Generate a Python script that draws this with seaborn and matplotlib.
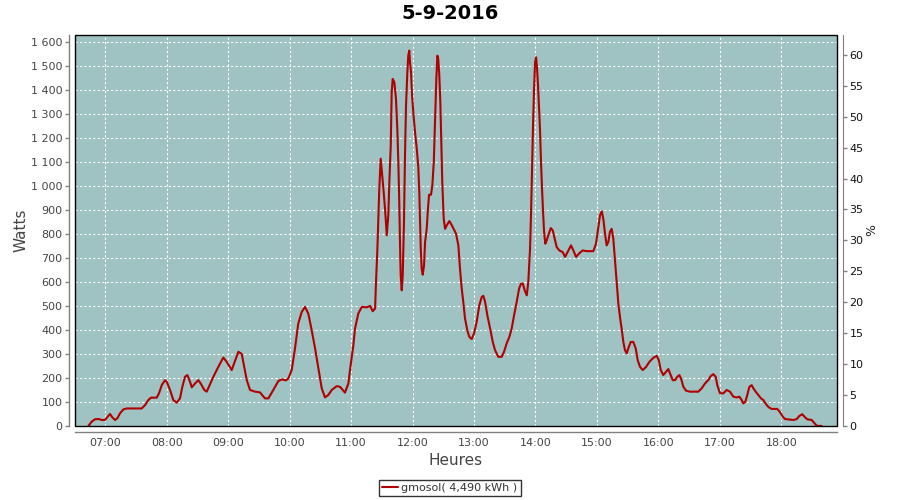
import matplotlib
matplotlib.use("Agg")
import matplotlib.pyplot as plt
import seaborn as sns
import pandas as pd
from matplotlib.patches import Rectangle
from matplotlib.ticker import FuncFormatter

# ---- data: minutes since midnight, watts ----
minutes = [
    403.4, 406.7, 409.9, 413.8, 416.5, 419.7, 422.3, 424.6, 426.8, 429.5,
    431.7, 434.4, 437.6, 440.9, 455.5, 458.8, 462.0, 464.6, 470.2, 472.4,
    475.1, 478.3, 480.0, 483.2, 486.4, 489.7, 492.9, 495.2, 497.8, 500.1,
    502.7, 504.4, 507.6, 510.8, 513.4, 516.7, 519.0, 525.5, 530.3, 535.2,
    538.5, 543.4, 549.9, 553.2, 558.1, 561.3, 566.2, 571.0, 575.9, 579.2,
    584.0, 588.9, 592.2, 596.4, 598.7, 602.0, 605.2, 608.4, 611.8, 615.0,
    618.2, 621.5, 624.8, 628.0, 631.3, 634.5, 637.7, 641.1, 645.9, 649.2,
    654.0, 657.3, 658.9, 662.2, 663.8, 667.0, 670.4, 675.2, 678.5, 681.1,
    683.4, 684.3, 685.6, 686.6, 687.5, 688.9, 691.5, 693.1, 694.8, 696.3,
    697.3, 698.7, 699.6, 700.6, 702.2, 703.8, 705.1, 706.1, 707.0, 707.7,
    708.4, 709.4, 710.4, 711.6, 712.6, 713.6, 714.9, 715.8, 716.8, 717.5,
    718.5, 719.5, 720.7, 722.4, 724.1, 725.6, 726.6, 727.3, 728.0, 728.9,
    729.9, 731.2, 732.2, 733.8, 734.8, 736.1, 738.0, 739.3, 740.7, 742.2,
    743.2, 744.2, 745.1, 746.1, 747.1, 748.1, 749.0, 750.4, 751.7, 753.3,
    755.9, 756.6, 759.2, 762.4, 764.7, 766.3, 768.0, 769.5, 771.2, 773.4,
    775.4, 777.7, 780.0, 782.6, 785.2, 787.5, 789.1, 790.8, 793.0, 795.7,
    798.3, 800.5, 803.7, 807.0, 809.3, 811.9, 814.5, 816.8, 819.1, 821.7,
    824.0, 825.9, 827.6, 829.5, 831.5, 833.0, 834.7, 835.7, 836.6, 837.6,
    838.6, 839.6, 840.6, 841.5, 842.5, 843.5, 844.4, 845.4, 846.4, 847.4,
    848.4, 849.6, 851.0, 852.5, 854.9, 856.8, 858.8, 860.7, 863.3, 866.6,
    868.9, 872.1, 874.7, 877.0, 879.6, 882.5, 886.1, 890.0, 896.5, 899.1,
    901.4, 903.0, 904.7, 906.2, 907.9, 909.5, 911.1, 912.7, 914.4, 916.0,
    917.6, 919.3, 920.9, 922.5, 924.1, 925.8, 927.4, 929.1, 930.6, 933.0,
    935.5, 937.9, 939.8, 942.1, 944.7, 948.0, 951.2, 955.1, 958.4, 960.4,
    962.3, 964.8, 967.5, 969.7, 971.4, 974.0, 976.3, 978.5, 980.5, 982.1,
    984.4, 987.0, 990.9, 999.0, 1002.3, 1005.5, 1008.7, 1011.1, 1013.6, 1016.0,
    1017.5, 1020.2, 1023.4, 1026.7, 1029.9, 1033.2, 1036.5, 1039.0, 1041.4, 1042.9,
    1044.9, 1046.8, 1048.8, 1051.1, 1052.7, 1055.0, 1057.6, 1060.2, 1062.5, 1065.1,
    1067.7, 1070.7, 1076.1, 1078.8, 1081.4, 1083.7, 1087.9, 1091.8, 1095.1, 1097.7,
    1100.5, 1103.2, 1105.4, 1109.7, 1112.0, 1114.6, 1119.5,
]
watts = [
    0, 18, 28, 29, 25, 25, 39, 50, 36, 25,
    32, 53, 69, 73, 73, 87, 108, 118, 118, 136,
    170, 191, 184, 150, 108, 97, 115, 163, 205, 212,
    184, 161, 177, 191, 175, 150, 143, 205, 246, 285,
    267, 233, 309, 300, 191, 150, 143, 140, 115, 115,
    150, 187, 194, 190, 198, 233, 323, 427, 475, 496,
    468, 399, 323, 240, 157, 119, 129, 150, 166, 163,
    139, 177, 233, 337, 406, 468, 496, 494, 500, 478,
    489, 600, 731, 870, 988, 1113, 988, 905, 794, 877,
    1015, 1168, 1389, 1445, 1431, 1362, 1237, 1098, 932, 766,
    628, 565, 628, 849, 1126, 1334, 1473, 1542, 1563, 1514,
    1473, 1376, 1306, 1223, 1154, 1078, 967, 849, 738, 655,
    630, 669, 766, 821, 891, 963, 963, 1002, 1098, 1306,
    1445, 1542, 1528, 1459, 1348, 1182, 1015, 863, 821, 835,
    853, 849, 828, 801, 752, 655, 572, 517, 448, 399,
    371, 362, 385, 434, 503, 537, 542, 517, 461, 406,
    350, 316, 288, 288, 309, 344, 371, 406, 461, 517,
    572, 593, 593, 565, 544, 600, 738, 891, 1071, 1251,
    1403, 1514, 1535, 1493, 1417, 1327, 1237, 1098, 988, 891,
    808, 759, 773, 794, 824, 815, 780, 745, 731, 724,
    704, 731, 752, 731, 704, 718, 731, 728, 728, 759,
    828, 877, 894, 863, 801, 752, 766, 808, 821, 780,
    690, 593, 510, 454, 406, 350, 316, 302, 323, 350,
    350, 323, 274, 246, 233, 246, 267, 284, 292, 274,
    233, 212, 226, 237, 219, 191, 191, 205, 212, 198,
    163, 147, 143, 143, 157, 177, 191, 208, 216, 205,
    170, 136, 136, 150, 143, 122, 119, 122, 108, 94,
    101, 129, 163, 170, 157, 143, 129, 115, 108, 91,
    78, 71, 71, 57, 39, 29, 27, 25, 29, 42,
    49, 36, 28, 25, 14, 1, 0,
]
hour_ticks = [420, 480, 540, 600, 660, 720, 780, 840, 900, 960, 1020, 1080]
hour_labels = ["07:00", "08:00", "09:00", "10:00", "11:00", "12:00",
               "13:00", "14:00", "15:00", "16:00", "17:00", "18:00"]
watt_ticks = list(range(0, 1601, 100))
pct_ticks = list(range(0, 61, 5))
series_label = "gmosol( 4,490 kWh )"
title = "5-9-2016"

df = pd.DataFrame({"minute": minutes, "watts": watts})

sns.set_style("white")
plt.rcParams["font.family"] = ["DejaVu Sans"]

fig = plt.figure(figsize=(9, 5), dpi=100)
ax = fig.add_axes([75 / 900, 74 / 500, 762 / 900, 391 / 500])
ax.set_facecolor("#9ec3c2")

sns.lineplot(data=df, x="minute", y="watts", ax=ax, color="#b00000",
             linewidth=1.5, label=series_label, sort=False, zorder=3)
handles, labels = ax.get_legend_handles_labels()
ax.get_legend().remove()

ax.set_xlim(390.4, 1134.4)
ax.set_ylim(0, 1628)
ax.set_xticks(hour_ticks)
ax.set_xticklabels(hour_labels)
ax.set_yticks(watt_ticks)
ax.yaxis.set_major_formatter(FuncFormatter(lambda v, p: f"{int(v):,}".replace(",", " ")))

ax.grid(True, color="white", linestyle=(0, (2, 2)), linewidth=0.8)
ax.set_axisbelow(True)

for s in ["top", "right"]:
    ax.spines[s].set_visible(False)
for s in ["left", "bottom"]:
    ax.spines[s].set_position(("outward", 4))
    ax.spines[s].set_color("#808080")
    ax.spines[s].set_linewidth(1)
ax.tick_params(axis="both", direction="out", length=3, width=1, color="#808080",
               labelsize=8, labelcolor="#444444", pad=2)

ax2 = ax.twinx()
ax2.set_ylim(0, 63.2)
ax2.set_yticks(pct_ticks)
for s in ["top", "left", "bottom"]:
    ax2.spines[s].set_visible(False)
ax2.spines["right"].set_position(("outward", 4))
ax2.spines["right"].set_color("#808080")
ax2.tick_params(axis="y", direction="out", length=3, width=1, color="#808080",
                labelsize=8, labelcolor="#111111", pad=2)
ax2.set_ylabel("%", fontsize=9, color="#222222", rotation=90)
ax2.yaxis.set_label_coords(1.046, 0.5)
ax2.yaxis.label.set_va("center")

ax.add_patch(Rectangle((0, 0), 1, 1, transform=ax.transAxes, fill=False,
                       edgecolor="black", linewidth=1.0, zorder=10, clip_on=False))

ax.set_xlabel("Heures", fontsize=11, color="#444444")
ax.xaxis.set_label_coords(0.5, -0.087)
ax.xaxis.label.set_va("center")
ax.set_ylabel("Watts", fontsize=11, color="#444444")
ax.yaxis.set_label_coords(-0.0709, 0.5)
ax.yaxis.label.set_va("center")

fig.text(0.5, 0.973, title, ha="center", va="center", fontsize=14,
         fontweight="bold", color="black")

leg = fig.legend(handles, labels, loc="center", bbox_to_anchor=(0.5, 0.024),
                 fontsize=8, frameon=True, fancybox=False, edgecolor="black",
                 handlelength=1.4, handletextpad=0.3, borderpad=0.3)
leg.get_frame().set_linewidth(1)
for t in leg.get_texts():
    t.set_color("#333333")

fig.savefig("out.png", dpi=100, facecolor="white")
